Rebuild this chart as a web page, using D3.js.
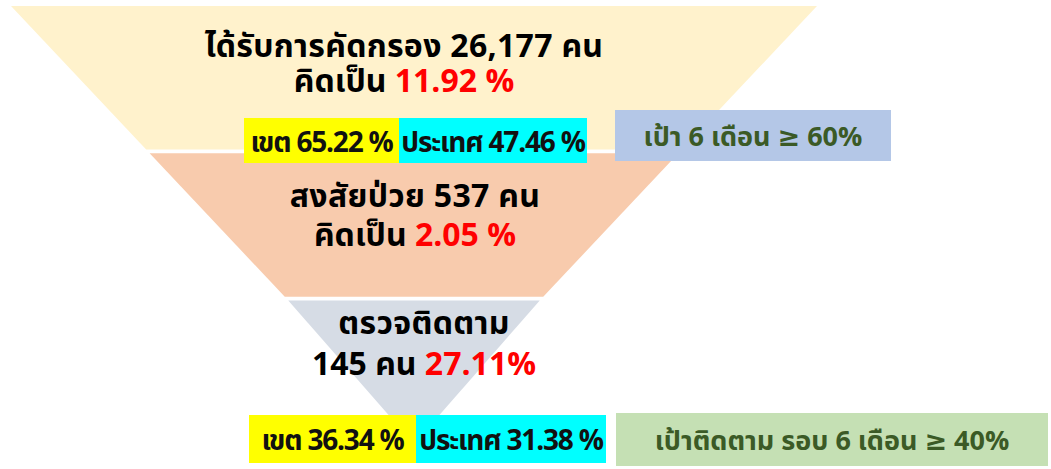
<!DOCTYPE html>
<html>
<head>
<meta charset="utf-8">
<title>funnel</title>
<script src="https://cdn.jsdelivr.net/npm/d3@7"></script>
<style>
  body { margin: 0; background: #fff; }
  svg { display: block; font-family: "Noto Sans Thai", "Noto Sans", "DejaVu Sans", sans-serif; font-weight: bold; }
</style>
</head>
<body>
<svg id="chart" width="1051" height="469"></svg>
<script>
// funnel stages
var stages = ['screened', 'suspected', 'followup']
var stageColors = ['#FFF2CC', '#F8CBAD', '#D6DCE5']
var line1 = ['ได้รับการคัดกรอง 26,177 คน', 'สงสัยป่วย 537 คน', 'ตรวจติดตาม']
var line2Black = ['คิดเป็น ', 'คิดเป็น ', '145 คน ']
var line2Red = ['11.92 %', '2.05 %', '27.11%']

// comparison boxes (region / country)
var compLabels = ['เขต 65.22 %', 'ประเทศ 47.46 %', 'เขต 36.34  %', 'ประเทศ 31.38  %']
var compColors = ['#FFFF00', '#00FFFF', '#FFFF00', '#00FFFF']
var targets = ['เป้า 6 เดือน ≥ 60%', 'เป้าติดตาม รอบ 6 เดือน ≥ 40%']
var targetColors = ['#B4C7E7', '#C5E0B4']

var svg = d3.select('#chart')

// funnel geometry
var cx = 414
var y = d3.scaleBand().domain(stages).range([6, 444]).paddingInner(0.025)
var halfW = d3.scaleLinear().domain([6, 434]).range([403, 0]).clamp(true)

var funnel = svg.append('g')
stages.forEach(function (s, i) {
    var y0 = y(s), y1 = y(s) + y.bandwidth()
    var pts = [
        [cx - halfW(y0), y0], [cx + halfW(y0), y0],
        [cx + halfW(y1), y1], [cx - halfW(y1), y1]
    ]
    funnel.append('path')
        .attr('d', d3.line()(pts) + 'Z')
        .attr('fill', stageColors[i])
})

// stage texts
var textX = [404, 415, 424]
var textY1 = [57, 207, 334]
var textY2 = [92, 246, 375]
stages.forEach(function (s, i) {
    funnel.append('text')
        .attr('x', textX[i]).attr('y', textY1[i])
        .attr('text-anchor', 'middle')
        .attr('font-size', 32)
        .attr('letter-spacing', 0.3)
        .attr('fill', '#000')
        .text(line1[i])
    var t = funnel.append('text')
        .attr('x', textX[i]).attr('y', textY2[i])
        .attr('text-anchor', 'middle')
        .attr('font-size', 32)
    t.append('tspan').attr('fill', '#000').text(line2Black[i])
    t.append('tspan').attr('fill', '#FF0000').text(line2Red[i])
})

// comparison boxes
var compBox = [
    { x: 244, y: 118, w: 155, h: 45 },
    { x: 399, y: 118, w: 188, h: 45 },
    { x: 249, y: 415, w: 167, h: 48 },
    { x: 416, y: 415, w: 190, h: 48 }
]
var cg = svg.append('g')
compLabels.forEach(function (lab, i) {
    var b = compBox[i]
    cg.append('rect').attr('x', b.x).attr('y', b.y).attr('width', b.w).attr('height', b.h)
        .attr('fill', compColors[i])
    cg.append('text').attr('x', b.x + b.w / 2).attr('y', b.y + b.h / 2 + 11)
        .attr('text-anchor', 'middle')
        .attr('font-size', 28)
        .attr('letter-spacing', -1.2)
        .attr('fill', '#111')
        .text(lab)
})

// target boxes
var targetBox = [
    { x: 615, y: 110, w: 276, h: 51 },
    { x: 616, y: 413, w: 432, h: 53 }
]
targets.forEach(function (lab, i) {
    var b = targetBox[i]
    cg.append('rect').attr('x', b.x).attr('y', b.y).attr('width', b.w).attr('height', b.h)
        .attr('fill', targetColors[i])
    cg.append('text').attr('x', b.x + b.w / 2).attr('y', b.y + b.h / 2 + 10)
        .attr('text-anchor', 'middle')
        .attr('font-size', 27)
        .attr('fill', '#3B5A26')
        .text(lab)
})
</script>
</body>
</html>
